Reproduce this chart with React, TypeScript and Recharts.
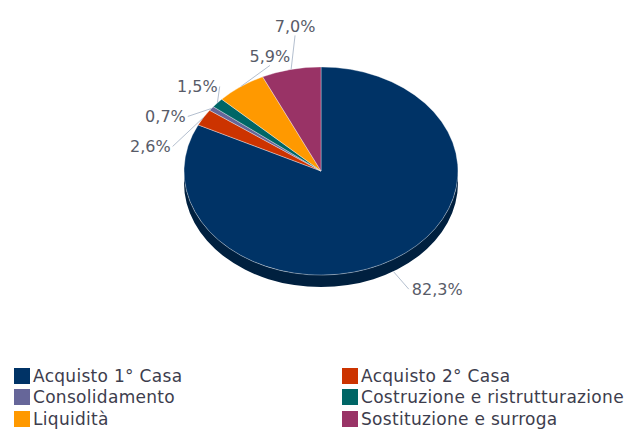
import { PieChart, Pie, Cell, Legend } from 'recharts';

const categories = [
  'Acquisto 1° Casa',
  'Acquisto 2° Casa',
  'Consolidamento',
  'Costruzione e ristrutturazione',
  'Liquidità',
  'Sostituzione e surroga',
];
const shares = [82.3, 2.6, 0.7, 1.5, 5.9, 7.0];
const colors = ['#003366', '#cc3300', '#666699', '#006666', '#ff9900', '#993366'];

const data = categories.map((name, i) => ({ name, value: shares[i] }));

const CX = 321;
const CY = 171;
const RADIUS = 137;
const TILT = 0.76; // vertical squash of the 3D disc
const DEPTH = 12;
const LABEL_OFFSET = 44;
const RIGHT_OFFSET = 35;
const LABEL_GAP = 30;
// ellipse on which the left-hand labels are aligned (their right edge)
const ALIGN_RX = 154;
const ALIGN_RY = 114;
const RAD = Math.PI / 180;

const darken = (hex: string, f: number) => {
  const n = parseInt(hex.slice(1), 16);
  const r = Math.round(((n >> 16) & 255) * f);
  const g = Math.round(((n >> 8) & 255) * f);
  const b = Math.round((n & 255) * f);
  return `rgb(${r},${g},${b})`;
};

const onEllipse = (cx: number, cy: number, rx: number, ry: number, deg: number) => [
  cx + rx * Math.cos(deg * RAD),
  cy - ry * Math.sin(deg * RAD),
];

// vertical label positions on the left, pushed apart so the small slices don't collide
const labelDy = (() => {
  const total = shares.reduce((a, b) => a + b, 0);
  let acc = 90;
  const items = shares.map((v, i) => {
    const d = (v / total) * 360;
    const mid = acc - d / 2;
    acc -= d;
    const sin = Math.sin(mid * RAD);
    const left = Math.cos(mid * RAD) < 0;
    return { i, left, dy: -(RADIUS * TILT + (left ? LABEL_OFFSET : RIGHT_OFFSET)) * sin };
  });
  const out: number[] = new Array(shares.length).fill(0);
  [true, false].forEach((side) => {
    const group = items.filter((it) => it.left === side).sort((a, b) => a.dy - b.dy);
    group.forEach((it, k) => {
      if (k > 0) it.dy = Math.max(it.dy, group[k - 1].dy + LABEL_GAP);
      out[it.i] = it.dy;
    });
  });
  return out;
})();

const Slice3D = (props: any) => {
  const { cx, cy, outerRadius, startAngle, endAngle, fill } = props;
  const rx = outerRadius;
  const ry = outerRadius * TILT;
  const [x1, y1] = onEllipse(cx, cy, rx, ry, startAngle);
  const [x2, y2] = onEllipse(cx, cy, rx, ry, endAngle);
  const large = Math.abs(endAngle - startAngle) > 180 ? 1 : 0;
  const sweep = endAngle < startAngle ? 1 : 0;
  const top = `M${cx},${cy} L${x1},${y1} A${rx},${ry} 0 ${large} ${sweep} ${x2},${y2} Z`;

  const lo = Math.min(startAngle, endAngle);
  const hi = Math.max(startAngle, endAngle);
  const sides: string[] = [];
  for (let k = -2; k <= 1; k++) {
    const s = Math.max(lo, 180 + 360 * k);
    const e = Math.min(hi, 360 + 360 * k);
    if (e > s) {
      const [sx, sy] = onEllipse(cx, cy, rx, ry, s);
      const [ex, ey] = onEllipse(cx, cy, rx, ry, e);
      const lg = e - s > 180 ? 1 : 0;
      sides.push(
        `M${sx},${sy} A${rx},${ry} 0 ${lg} 0 ${ex},${ey} L${ex},${ey + DEPTH} A${rx},${ry} 0 ${lg} 1 ${sx},${sy + DEPTH} Z`
      );
    }
  }

  return (
    <g>
      {sides.map((d, i) => (
        <path key={i} d={d} fill={darken(fill, 0.62)} />
      ))}
      <path d={top} fill={fill} stroke="rgba(255,255,255,0.5)" strokeWidth={0.7} strokeLinejoin="round" />
    </g>
  );
};

const renderLabel = (props: any) => {
  const { cx, cy, midAngle, outerRadius, index, value } = props;
  const cos = Math.cos(midAngle * RAD);
  const sin = Math.sin(midAngle * RAD);
  const rx = outerRadius;
  const ry = outerRadius * TILT;
  const ex = cx + rx * cos;
  const ey = cy - ry * sin + (sin < 0 ? DEPTH : 0);
  const dy = labelDy[index];
  const ly = cy + dy;
  let lx: number;
  let anchor: 'start' | 'end' | 'middle';
  let ax: number;
  let ay = ly;
  if (cos < 0) {
    const t = 1 - (dy / ALIGN_RY) ** 2;
    if (t > 0) {
      lx = cx - ALIGN_RX * Math.sqrt(t);
      anchor = 'end';
      ax = lx + 2;
    } else {
      // above the alignment ellipse: sit over the disc, between its slice and the centre line
      lx = (ex + cx) / 2 - 11;
      anchor = 'middle';
      ax = lx;
      ay = ly + 9;
    }
  } else {
    lx = cx + (rx + RIGHT_OFFSET) * cos;
    anchor = 'start';
    ax = lx - 3;
  }
  return (
    <g>
      <line x1={ex} y1={ey} x2={ax} y2={ay} stroke="#b4bfcf" strokeWidth={1} />
      <text x={lx} y={ly} textAnchor={anchor} dominantBaseline="central" fill="#585b68" fontSize={16}>
        {Number(value).toFixed(1).replace('.', ',')}%
      </text>
    </g>
  );
};

const LegendGrid = ({ payload }: any) => (
  <div
    style={{
      display: 'grid',
      gridTemplateColumns: '328px 286px',
      paddingLeft: 14,
      fontFamily: 'DejaVu Sans',
      fontSize: 17,
      color: '#3d3d4d',
      letterSpacing: 0.3,
    }}
  >
    {(payload ?? []).map((entry: any) => (
      <div key={entry.value} style={{ display: 'flex', alignItems: 'center', height: 21.5, whiteSpace: 'nowrap' }}>
        <span
          style={{
            width: 16,
            height: 16,
            background: colors[categories.indexOf(entry.value)] ?? entry.color,
            marginRight: 3,
            flex: 'none',
          }}
        />
        {entry.value}
      </div>
    ))}
  </div>
);

export default function App() {
  return (
    <div style={{ position: 'absolute', left: 0, top: 0, width: 628, height: 429, background: '#fff' }}>
      <PieChart
        width={628}
        height={429}
        margin={{ top: 0, right: 0, bottom: 0, left: 0 }}
        style={{ fontFamily: 'DejaVu Sans' }}
      >
        <Pie
          data={data}
          dataKey="value"
          nameKey="name"
          cx={CX}
          cy={CY}
          outerRadius={RADIUS}
          startAngle={90}
          endAngle={-270}
          isAnimationActive={false}
          shape={Slice3D}
          activeShape={Slice3D}
          inactiveShape={Slice3D}
          label={renderLabel}
          labelLine={false}
        >
          {data.map((d, i) => (
            <Cell key={d.name} fill={colors[i]} />
          ))}
        </Pie>
        <Legend content={LegendGrid} wrapperStyle={{ left: 0, top: 365, width: 628, margin: 0 }} />
      </PieChart>
    </div>
  );
}
